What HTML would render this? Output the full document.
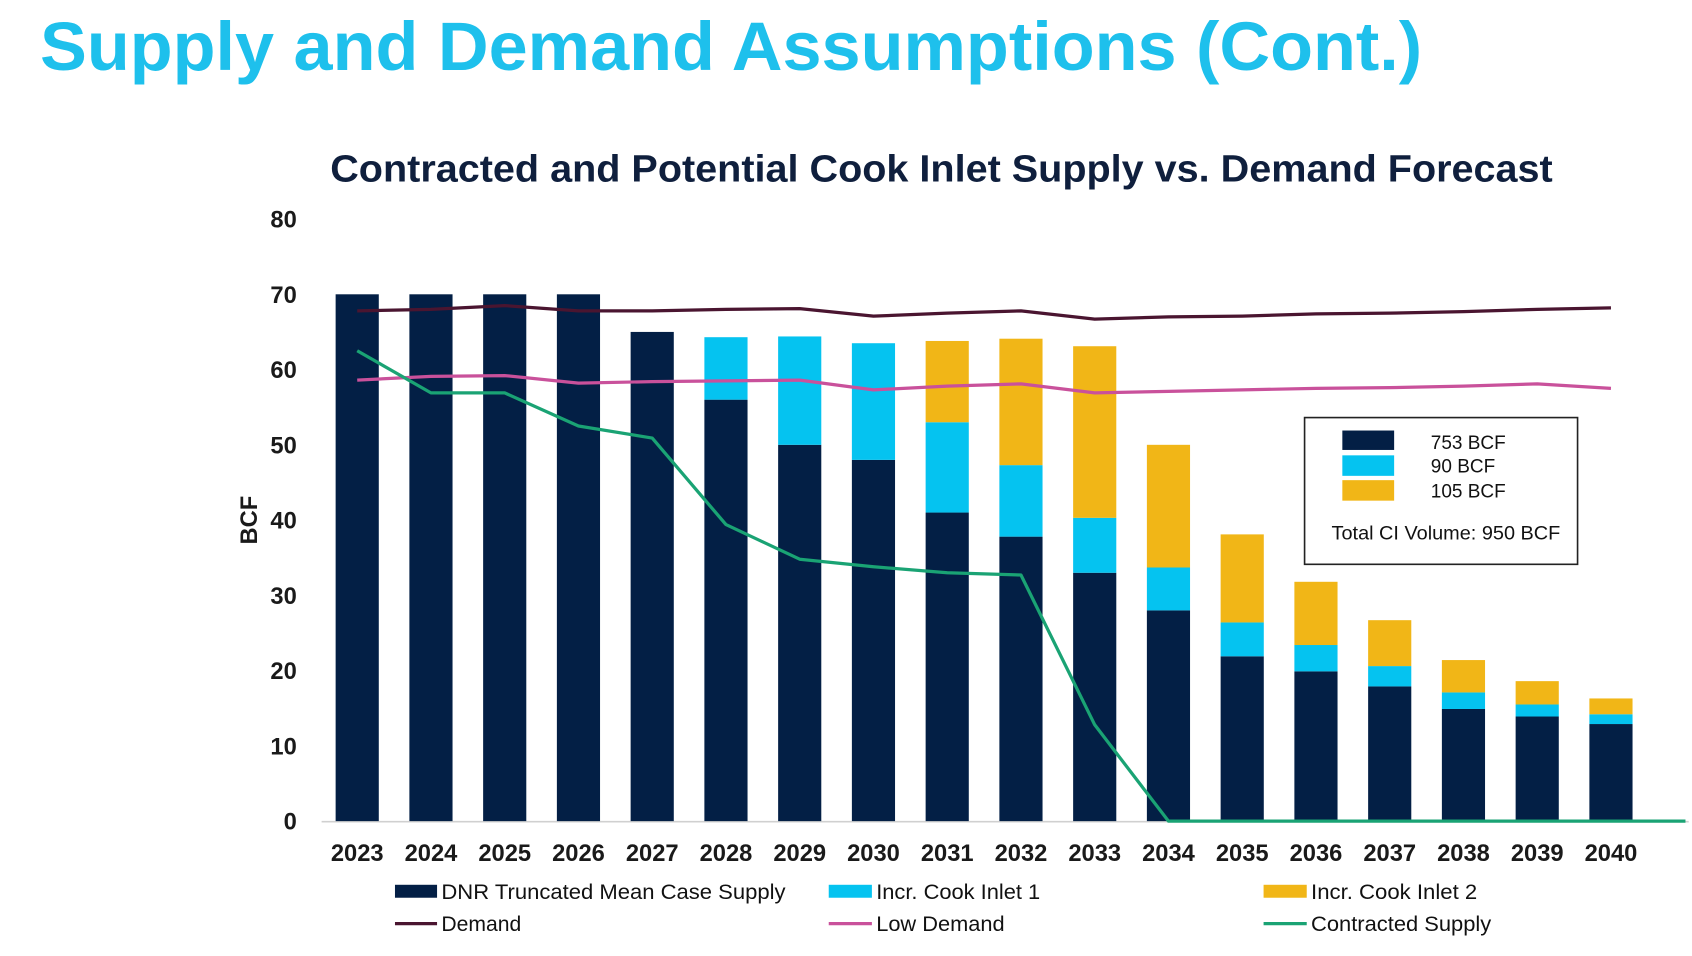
<!DOCTYPE html>
<html><head><meta charset="utf-8"><style>
html,body{margin:0;padding:0;background:#fff;}
svg{display:block;font-family:"Liberation Sans",Arial,sans-serif;}
</style></head><body>
<svg id="chart" width="1692" height="956" viewBox="0 0 1568 886" xmlns="http://www.w3.org/2000/svg">
<text x="37" y="65" font-size="64" font-weight="bold" fill="#1ec0ec" textLength="1281" lengthAdjust="spacingAndGlyphs">Supply and Demand Assumptions (Cont.)</text>
<text x="306" y="168" font-size="35" font-weight="bold" fill="#0f1f3d" textLength="1133" lengthAdjust="spacingAndGlyphs">Contracted and Potential Cook Inlet Supply vs. Demand Forecast</text>
<text transform="translate(238,482) rotate(-90)" text-anchor="middle" font-size="22" font-weight="bold" fill="#1a1a1a">BCF</text>
<g id="yticks"></g><g id="bars"></g><g id="xlabels"></g><g id="lines"></g>
<g>
<rect x="1209" y="387" width="253" height="136" fill="#fff" stroke="#222" stroke-width="1.5"/>
<rect x="1244" y="399" width="48" height="18" fill="#031f45"/>
<rect x="1244" y="422" width="48" height="19" fill="#05c3f0"/>
<rect x="1244" y="445" width="48" height="19" fill="#f1b617"/>
<text x="1326" y="416" font-size="17.6" fill="#111">753 BCF</text>
<text x="1326" y="438" font-size="17.6" fill="#111">90 BCF</text>
<text x="1326" y="461" font-size="17.6" fill="#111">105 BCF</text>
<text x="1234" y="500" font-size="17.6" fill="#111" textLength="212" lengthAdjust="spacingAndGlyphs">Total CI Volume: 950 BCF</text>
</g>
<g font-size="19.6" fill="#111">
<rect x="366" y="820" width="39" height="12" fill="#031f45"/><text x="409" y="833" textLength="319" lengthAdjust="spacingAndGlyphs">DNR Truncated Mean Case Supply</text>
<rect x="768" y="820" width="40" height="12" fill="#05c3f0"/><text x="812" y="833" textLength="152" lengthAdjust="spacingAndGlyphs">Incr. Cook Inlet 1</text>
<rect x="1171" y="820" width="40" height="12" fill="#f1b617"/><text x="1215" y="833" textLength="154" lengthAdjust="spacingAndGlyphs">Incr. Cook Inlet 2</text>
<line x1="366" y1="856" x2="405" y2="856" stroke="#4a1530" stroke-width="3"/><text x="409" y="863">Demand</text>
<line x1="768" y1="856" x2="808" y2="856" stroke="#c9519b" stroke-width="3"/><text x="812" y="863" textLength="119" lengthAdjust="spacingAndGlyphs">Low Demand</text>
<line x1="1171" y1="856" x2="1211" y2="856" stroke="#1aa374" stroke-width="3"/><text x="1215" y="863" textLength="167" lengthAdjust="spacingAndGlyphs">Contracted Supply</text>
</g>
</svg>
<script>
const years=[2023,2024,2025,2026,2027,2028,2029,2030,2031,2032,2033,2034,2035,2036,2037,2038,2039,2040];
const dnr=[70,70,70,70,65,56,50,48,41,37.8,33,28,21.9,19.9,17.9,14.9,13.9,12.9];
const inlet1=[0,0,0,0,0,8.3,14.4,15.5,12,9.5,7.3,5.7,4.5,3.5,2.7,2.2,1.6,1.3];
const inlet2=[0,0,0,0,0,0,0,0,10.8,16.8,22.8,16.3,11.7,8.4,6.1,4.3,3.1,2.1];
const demand=[67.8,68,68.5,67.8,67.8,68,68.1,67.1,67.5,67.8,66.7,67,67.1,67.4,67.5,67.7,68,68.2];
const lowDemand=[58.6,59.1,59.2,58.2,58.4,58.5,58.6,57.3,57.8,58.1,56.9,57.1,57.3,57.5,57.6,57.8,58.1,57.5];
const contracted=[62.5,56.9,56.9,52.5,50.9,39.4,34.8,33.8,33,32.7,12.8,0,0,0,0,0,0,0];
const yTicks=[0,10,20,30,40,50,60,70,80];
const NS="http://www.w3.org/2000/svg";
const y=v=>761-v*6.975;
const x=i=>331+i*68.35;
function mk(tag,attrs,parent){const e=document.createElementNS(NS,tag);for(const k in attrs)e.setAttribute(k,attrs[k]);document.getElementById(parent).appendChild(e);return e;}
yTicks.forEach(t=>{const e=mk('text',{x:275,y:y(t)+8,'text-anchor':'end','font-size':22,'font-weight':'bold',fill:'#1a1a1a'},'yticks');e.textContent=t;

});
const ax=mk('line',{x1:298,y1:761.5,x2:1565,y2:761.5,stroke:'#d0d0d0','stroke-width':1.5},'yticks');


years.forEach((yr,i)=>{
 const segs=[[0,dnr[i],'#031f45','bar-dnr'],[dnr[i],dnr[i]+inlet1[i],'#05c3f0','bar-inlet1'],[dnr[i]+inlet1[i],dnr[i]+inlet1[i]+inlet2[i],'#f1b617','bar-inlet2']];
 segs.forEach(s=>{if(s[1]>s[0]){const r=mk('rect',{x:x(i)-20,y:y(s[1]),width:40,height:y(s[0])-y(s[1]),fill:s[2]},'bars');
 
 }});
 const t=mk('text',{x:x(i),y:798,'text-anchor':'middle','font-size':22,'font-weight':'bold',fill:'#1a1a1a'},'xlabels');t.textContent=yr;
 
 
});
function line(arr,color,name,extend){let pts=arr.map((v,i)=>x(i)+','+y(v));if(extend)pts.push('1562,'+y(arr[arr.length-1]));
 const p=mk('polyline',{points:pts.join(' '),fill:'none',stroke:color,'stroke-width':3,'stroke-linejoin':'round'},'lines');
 
 }
line(demand,'#4a1530','demand-line',false);
line(lowDemand,'#c9519b','low-demand-line',false);
line(contracted,'#1aa374','contracted-supply-line',true);
</script>
</body></html>
